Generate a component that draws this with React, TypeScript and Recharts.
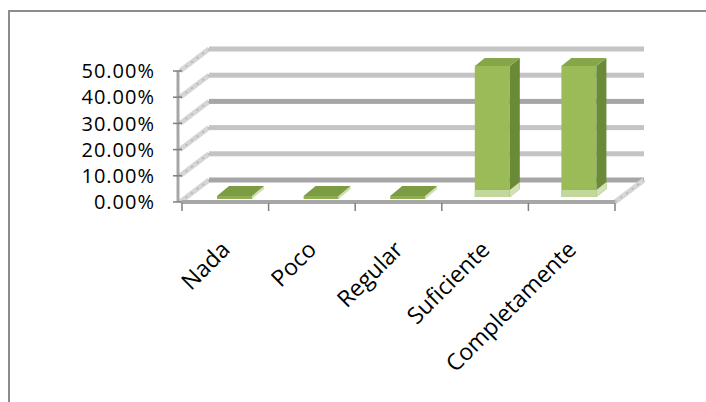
import { BarChart, Bar, XAxis, YAxis, CartesianGrid } from "recharts";

// datos de la gráfica
const categorias = ["Nada", "Poco", "Regular", "Suficiente", "Completamente"];
const porcentajes = [0, 0, 0, 0.5, 0.5];
const ticksY = [0, 0.1, 0.2, 0.3, 0.4, 0.5];

const data = categorias.map((c, i) => ({ name: c, value: porcentajes[i] }));

// geometría fija del gráfico
const W = 706;
const H = 402;
const MARGIN = { top: 71, right: 91, left: 0, bottom: 80 };
const Y_AXIS_W = 182;
const X_AXIS_H = 120;
const PLOT_LEFT = MARGIN.left + Y_AXIS_W;
const PLOT_RIGHT = W - MARGIN.right;
const PLOT_TOP = MARGIN.top;
const PLOT_BOTTOM = H - MARGIN.bottom - X_AXIS_H;
const BAND = (PLOT_RIGHT - PLOT_LEFT) / categorias.length;

// profundidad "3D" de las paredes y de las columnas
const WALL_DX = 27;
const WALL_DY = -22;
const BAR_DX = 7;
const BAR_DY = -5;
const DEPTH_DX = 10;
const DEPTH_DY = -8;

const FONT = "'Open Sans', sans-serif";

function pct(v: number) {
  return (v * 100).toFixed(2) + "%";
}

/** líneas de división en la pared del fondo + diagonales en la pared izquierda */
function GridLine(props: any) {
  const { x1, x2, y1 } = props;
  const idx = Math.round(((PLOT_BOTTOM - y1) / (PLOT_BOTTOM - PLOT_TOP)) * (ticksY.length - 1));
  const shade = idx % 3 === 0 ? "#a6a6a6" : "#c4c4c4";
  const yb = y1 + WALL_DY;
  const isFloor = Math.abs(y1 - PLOT_BOTTOM) < 1;
  return (
    <g key={props.key}>
      <line x1={x1 - 2} y1={y1} x2={x1 + WALL_DX} y2={yb} stroke="#d6d6d6" strokeWidth={5} />
      <line x1={x1 - 2} y1={y1} x2={x1 + WALL_DX} y2={yb} stroke="#b4b4b4" strokeWidth={1.5} strokeDasharray="2 5" />
      <rect x={x1 + WALL_DX} y={yb - 2.5} width={x2 - x1 + 2} height={5} fill={shade} />
      {isFloor && (
        <g>
          <line x1={x2} y1={y1} x2={x2 + WALL_DX + 2} y2={yb} stroke="#d6d6d6" strokeWidth={5} />
          <line x1={x2} y1={y1} x2={x2 + WALL_DX + 2} y2={yb} stroke="#b4b4b4" strokeWidth={1.5} strokeDasharray="2 5" />
        </g>
      )}
    </g>
  );
}

/** columna con caras frontal, lateral y superior */
function Column3D(props: any) {
  const { x, y, width, height } = props;
  const h = Math.max(0, height || 0);
  const fx = x + BAR_DX;
  const fy = y + BAR_DY;
  const w = width;
  if (h < 1) {
    // valor cero: sólo la "losa" del piso
    const s = 3;
    const ddx = 12;
    const ddy = -10;
    const gx = fx + 2;
    const gy = fy + 2;
    return (
      <g>
        <rect x={gx} y={gy - s} width={w} height={s} fill="#8fae52" />
        <polygon
          points={`${gx + w},${gy} ${gx + w + ddx},${gy + ddy} ${gx + w + ddx},${gy + ddy - s} ${gx + w},${gy - s}`}
          fill="#cfdfb0"
        />
        <polygon
          points={`${gx},${gy - s} ${gx + ddx},${gy + ddy - s} ${gx + w + ddx},${gy + ddy - s} ${gx + w},${gy - s}`}
          fill="#7c9c44"
        />
      </g>
    );
  }
  const top = `${fx},${fy} ${fx + DEPTH_DX},${fy + DEPTH_DY} ${fx + w + DEPTH_DX},${fy + DEPTH_DY} ${fx + w},${fy}`;
  const side = `${fx + w},${fy} ${fx + w + DEPTH_DX},${fy + DEPTH_DY} ${fx + w + DEPTH_DX},${fy + h + DEPTH_DY} ${fx + w},${fy + h}`;
  const sideLow = `${fx + w},${fy + h - 7} ${fx + w + DEPTH_DX},${fy + h - 7 + DEPTH_DY} ${fx + w + DEPTH_DX},${fy + h + DEPTH_DY} ${fx + w},${fy + h}`;
  return (
    <g>
      <rect x={fx} y={fy} width={w} height={h} fill="#9bbb59" />
      <rect x={fx} y={fy + h - 7} width={w} height={7} fill="#c3d69b" />
      <polygon points={side} fill="#6b8a38" />
      <polygon points={sideLow} fill="#d3e2b6" />
      <polygon points={top} fill="#86a64a" />
    </g>
  );
}

function XTick(props: any) {
  const { x, y, payload, index } = props;
  const tx = x + 6;
  const ty = y + 49;
  const left = x - BAND / 2;
  const right = x + BAND / 2;
  return (
    <g>
      <line x1={left} y1={y + 1} x2={left} y2={y + 9} stroke="#7f7f7f" strokeWidth={1.5} />
      {index === categorias.length - 1 && (
        <line x1={right} y1={y + 1} x2={right} y2={y + 9} stroke="#7f7f7f" strokeWidth={1.5} />
      )}
      <text
        x={tx}
        y={ty}
        transform={`rotate(-45, ${tx}, ${ty})`}
        textAnchor="end"
        fontSize={23}
        fontFamily={FONT}
        fill="#000"
      >
        {payload.value}
      </text>
    </g>
  );
}

export default function App() {
  return (
    <div style={{ position: "relative", width: W, height: H, overflow: "hidden" }}>
      <style>{`body{margin:0;overflow:hidden;background:#fff}`}</style>
      <div
        style={{
          position: "absolute",
          left: 8,
          top: 10,
          width: 720,
          height: 420,
          borderLeft: "2px solid #8c8c8c",
          borderTop: "2px solid #8c8c8c",
        }}
      />
      <div style={{ position: "absolute", left: 0, top: 0 }}>
        <BarChart width={W} height={H} data={data} margin={MARGIN} barSize={35}>
          <CartesianGrid horizontal={GridLine} vertical={false} />
          <XAxis
            dataKey="name"
            height={X_AXIS_H}
            interval={0}
            tickLine={false}
            tickSize={0}
            tickMargin={0}
            axisLine={{ stroke: "#a6a6a6", strokeWidth: 4 }}
            tick={<XTick />}
          />
          <YAxis
            width={Y_AXIS_W}
            domain={[0, 0.5]}
            ticks={ticksY}
            interval={0}
            tickFormatter={pct}
            tickSize={9}
            tickMargin={18}
            tickLine={{ stroke: "#7f7f7f", strokeWidth: 1.5 }}
            axisLine={{ stroke: "#a6a6a6", strokeWidth: 3, transform: "translate(-4,0)" }}
            tick={{ fontSize: 20, fontFamily: FONT, fill: "#000", letterSpacing: 1 }}
          />
          <Bar dataKey="value" shape={Column3D} isAnimationActive={false} />
        </BarChart>
      </div>
    </div>
  );
}
